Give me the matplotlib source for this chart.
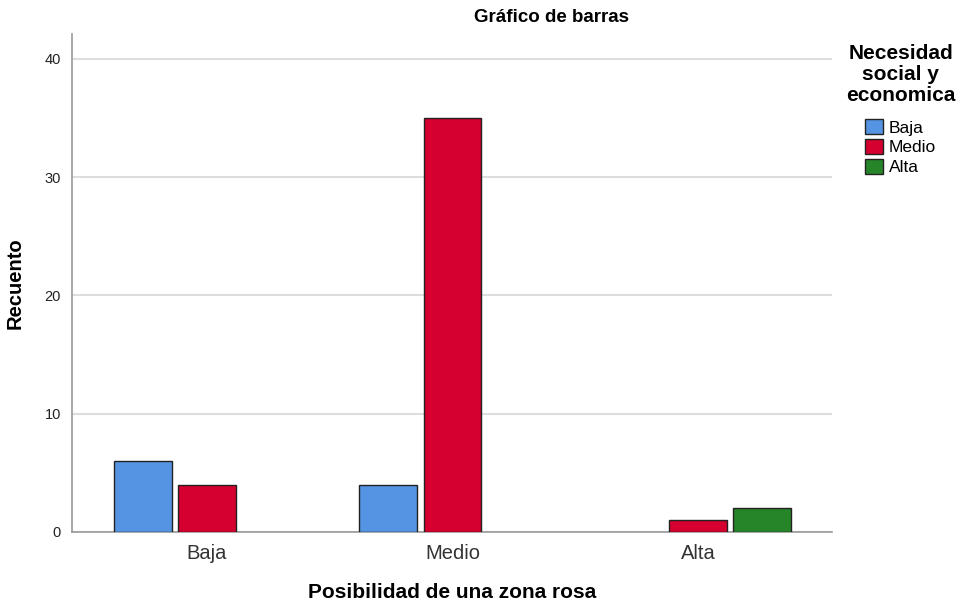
import numpy as np
import matplotlib.pyplot as plt
from matplotlib.patches import Patch

plt.rcParams['font.family'] = ['Liberation Sans', 'DejaVu Sans']

# categories on the x axis (Posibilidad de una zona rosa)
categories = ['Baja', 'Medio', 'Alta']
# series (Necesidad social y economica), counts per category
series_names = ['Baja', 'Medio', 'Alta']
baja_vals = [6, 4, 0]
medio_vals = [4, 35, 1]
alta_vals = [0, 0, 2]
colors = ['#5594e2', '#d5002f', '#268528']

fig = plt.figure(figsize=(9.57, 6.05), dpi=100)
ax = fig.add_axes([0.0752, 0.1207, 0.7942, 0.8231])

x = np.arange(len(categories))
width = 0.236
offset = 0.261
for i, (vals, col) in enumerate(zip([baja_vals, medio_vals, alta_vals], colors)):
    for xi, v in zip(x, vals):
        if v > 0:
            ax.bar(xi + (i - 1) * offset, v, width, color=col,
                   edgecolor='#222222', linewidth=1.0, zorder=3)

ax.set_xlim(-0.55, 2.546)
ax.set_ylim(0, 42.1)
ax.set_yticks([0, 10, 20, 30, 40])
ax.set_xticks(x)
ax.set_xticklabels(categories, fontsize=14.5, color='#333333')
ax.tick_params(axis='y', length=0, labelsize=10.5, pad=8, colors='#222222')
ax.tick_params(axis='x', length=0, pad=9)
ax.grid(axis='y', color='#dddddd', linewidth=1.5, zorder=0)
for s in ['top', 'right']:
    ax.spines[s].set_visible(False)
for s in ['left', 'bottom']:
    ax.spines[s].set_color('#999999')
    ax.spines[s].set_linewidth(1.2)

ax.set_ylabel('Recuento', fontsize=14.5, fontweight='bold', labelpad=14)
ax.set_xlabel('Posibilidad de una zona rosa', fontsize=15, fontweight='bold', labelpad=14)

fig.text(551 / 957, 1 - 18 / 605, 'Gráfico de barras', fontsize=13.5, fontweight='bold',
         ha='center', va='center')

handles = [Patch(facecolor=c, edgecolor='#222222', label=n) for c, n in zip(colors, series_names)]
leg = fig.legend(handles=handles, title='Necesidad\nsocial y\neconomica',
                 loc='upper left', bbox_to_anchor=(0.873, 0.945), frameon=False,
                 fontsize=12.5, title_fontproperties={'weight': 'bold', 'size': 15},
                 handlelength=1.05, handleheight=0.95, handletextpad=0.3, labelspacing=0.2,
                 borderpad=0.1)
leg.get_title().set_multialignment('center')
leg.get_title().set_linespacing(1.15)
leg._legend_box.align = 'center'
leg._legend_box.sep = 10

fig.savefig('out.png', dpi=100)
